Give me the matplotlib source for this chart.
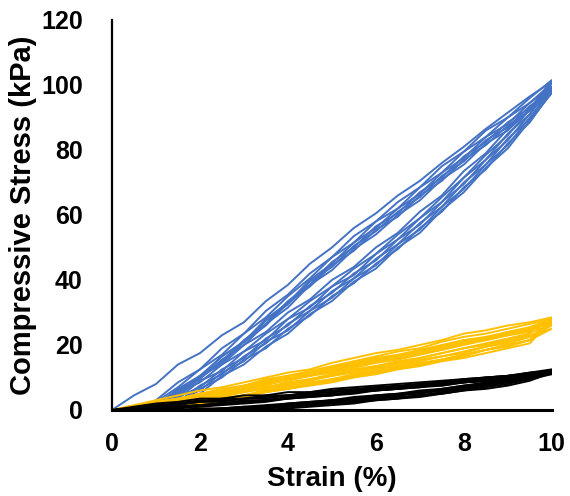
import matplotlib
matplotlib.use("Agg")
import matplotlib.pyplot as plt

# ---------------- data ----------------
STRAIN = [0.0, 0.5, 1.0, 1.5, 2.0, 2.5, 3.0, 3.5, 4.0, 4.5, 5.0,
          5.5, 6.0, 6.5, 7.0, 7.5, 8.0, 8.5, 9.0, 9.5, 10.0]

X_TICKS = [0, 2, 4, 6, 8, 10]
Y_TICKS = [0, 20, 40, 60, 80, 100, 120]

BLUE_LOADING = [
    [0, 4.5, 8, 14, 17.5, 23, 27, 33.5, 38.5, 45, 50, 56, 60.5, 66, 70.5, 76, 81, 86.5, 91.5, 96.5, 101],
    [0, 0, 3, 8.5, 12.5, 19, 23.5, 30.5, 35.5, 42, 47, 53.5, 58, 64, 68.5, 75, 79.5, 86, 90, 96, 101.5],
    [0, 0, 2.5, 7, 12.5, 17, 23.5, 28.5, 35, 40.5, 47, 51.5, 58, 62, 68.5, 73, 79.5, 84, 90, 94.5, 100.5],
    [0, 0, 1.5, 6.5, 10.5, 16.5, 21, 28, 33, 40, 45, 51.5, 56, 62, 66.5, 73, 77.5, 84, 88, 94.5, 99.5],
    [0, 0, 1, 4.5, 10.5, 15, 21.5, 26.5, 33.5, 38.5, 45.5, 50, 56.5, 60.5, 67, 71.5, 78, 82.5, 88.5, 93, 99],
    [0, 0, 1.5, 6, 10, 16.5, 21, 27.5, 32.5, 39.5, 44, 50.5, 55, 61, 65.5, 72, 76.5, 83, 87, 93.5, 98.5],
    [0, 0, 0.5, 4, 10, 14.5, 21, 26, 33, 38, 44.5, 49, 55.5, 59.5, 66, 70.5, 77, 81.5, 87.5, 92, 98],
    [0, 0, 1, 5.5, 9.5, 15.5, 20, 26.5, 31.5, 38.5, 43, 49.5, 54, 60, 64.5, 71, 75.5, 82, 86, 92.5, 97.5],
]
BLUE_UNLOADING = [
    [0, 0, 2, 5, 10.5, 14, 20, 24, 30, 34, 40, 44, 50, 54.5, 61, 66, 73.5, 79, 86.5, 92.5, 101],
    [0, 0.5, 1.5, 5.5, 8.5, 14, 18, 23.5, 28, 33.5, 38, 43.5, 48, 54, 59, 65.5, 71.5, 78.5, 84.5, 92.5, 101.5],
    [0, 0, 1, 3.5, 9, 12, 18, 21.5, 28, 31.5, 38, 41.5, 48, 52.5, 59, 64, 71.5, 77, 85, 91, 100.5],
    [0, 0, 0.5, 4, 7, 12.5, 16, 22, 26, 32, 36, 42, 46, 52.5, 57, 64, 69.5, 77, 83, 91, 99.5],
    [0, 0, 0.5, 2.5, 7.5, 11, 16.5, 20.5, 26.5, 30.5, 36.5, 40.5, 46.5, 51, 57.5, 62.5, 70, 75.5, 83.5, 89.5, 99],
    [0, 0, 0, 3, 6, 11.5, 15, 21, 24.5, 30.5, 34.5, 40.5, 44.5, 51, 55.5, 62.5, 68, 75.5, 81.5, 90, 98.5],
    [0, 0, 0, 2, 6.5, 10, 15.5, 19, 25, 29, 35, 39, 45, 49.5, 56, 61, 68.5, 74, 82, 88.5, 98],
    [0, 0, 0, 2.5, 5, 10.5, 14, 19.5, 23.5, 29.5, 33.5, 39.5, 43.5, 50, 54.5, 61.5, 67, 74.5, 80.5, 89, 97.5],
]

YELLOW_LOADING = [
    [0, 1.5, 3, 4.5, 6, 7, 8.5, 10, 11.5, 12.5, 14.5, 16, 17.5, 18.5, 20, 21.5, 23.5, 24.5, 26, 27, 28.5],
    [0, 1, 2.5, 3.5, 5, 6.5, 7.5, 9.5, 10.5, 12, 13.5, 15, 16.5, 18, 19, 21, 22.5, 23.5, 25, 26.5, 28],
    [0, 0.5, 2, 3, 5, 5.5, 7.5, 8.5, 10.5, 11, 13, 14, 16, 16.5, 18.5, 19.5, 21.5, 22, 24, 25, 27],
    [0, 1, 1.5, 3, 4, 5.5, 6.5, 8.5, 9.5, 11, 12, 14, 15, 16.5, 17.5, 19.5, 20.5, 22, 23, 25, 26.5],
    [0, 0.5, 1.5, 2.5, 4.5, 5, 7, 8, 10, 10.5, 12.5, 13.5, 15.5, 16, 18, 19, 21, 21.5, 23.5, 24.5, 27.5],
    [0, 1, 2.5, 3.5, 5, 6, 7.5, 9, 10.5, 11.5, 13, 14.5, 16, 17, 18.5, 20, 21.5, 22.5, 24, 25.5, 28],
    [0, 0.5, 1, 2, 3.5, 4.5, 6, 7, 8.5, 9.5, 11, 12.5, 13.5, 15, 16, 17.5, 19, 20, 21.5, 23, 25],
    [0, 0.5, 1.5, 2.5, 4, 5, 6.5, 7.5, 9.5, 10.5, 12, 13, 15, 16, 17.5, 18.5, 20.5, 21.5, 23, 24, 26],
]
YELLOW_UNLOADING = [
    [0, 0, 1, 2.5, 3.5, 5, 6.5, 8, 9, 10.5, 11.5, 13, 14.5, 15.5, 17, 18.5, 20, 21.5, 23, 24.5, 28.5],
    [0, 0, 0.5, 2, 3, 4.5, 5.5, 7, 8, 9.5, 10.5, 12, 13.5, 14.5, 16, 17.5, 19, 20.5, 22, 23.5, 28],
    [0, 0, 0.5, 1.5, 3, 4, 5.5, 6.5, 8, 9, 10.5, 11.5, 13, 14, 15.5, 16.5, 18, 19.5, 21, 22.5, 27],
    [0, 0, 0, 1, 2.5, 3.5, 4.5, 6, 7, 8, 9.5, 10.5, 12, 13, 14.5, 15.5, 17, 18.5, 20, 21.5, 26.5],
    [0, 0, 0.5, 1.5, 2, 3.5, 4.5, 6, 6.5, 8, 9, 10.5, 11.5, 13, 14, 15.5, 16.5, 18.5, 19.5, 21.5, 27.5],
    [0, 0, 0, 1, 2, 3, 4, 5.5, 6.5, 7.5, 8.5, 10, 11, 12.5, 13.5, 15, 16, 17.5, 19, 20.5, 28],
    [0, 0, 0, 0.5, 1.5, 3, 4, 5.5, 6.5, 8, 9, 10.5, 11.5, 13, 14, 15.5, 17, 18.5, 20, 21.5, 25],
    [0, 0, 0.5, 1, 2.5, 3.5, 4.5, 6, 7.5, 8.5, 9.5, 11, 12.5, 13.5, 15, 16.5, 17.5, 19.5, 20.5, 22.5, 26],
]

BLACK_LOADING = [
    [0, 1, 2, 2.5, 3.5, 3.5, 4.5, 4.5, 5.5, 5.5, 6.5, 7, 7.5, 8, 8.5, 9, 9.5, 10, 10.5, 11.5, 12.5],
    [0, 0.5, 1, 2, 2.5, 3.5, 3.5, 4.5, 4.5, 5.5, 6, 6.5, 7, 7.5, 8, 8.5, 9.5, 10, 10.5, 11.5, 12],
    [0, 0.5, 1, 1.5, 2.5, 2.5, 3.5, 3.5, 4.5, 5, 5.5, 6, 7, 7, 8, 8.5, 9, 10, 10.5, 11, 12],
    [0, 0, 0.5, 1, 1.5, 2, 2.5, 3, 3.5, 4, 4.5, 5.5, 6, 6.5, 7.5, 8, 8.5, 9, 10, 10.5, 11.5],
    [0, 0, 0.5, 1, 1.5, 2, 3, 3, 4, 4.5, 5, 5.5, 6.5, 6.5, 7.5, 7.5, 8.5, 9, 10, 10.5, 11.5],
    [0, 0, 0.5, 0.5, 1, 1.5, 2, 2.5, 3.5, 4, 4.5, 5, 6, 6.5, 7, 7.5, 8.5, 9, 9.5, 10.5, 11],
    [0, 0.5, 1.5, 2, 3, 3, 3.5, 4, 4.5, 5, 5.5, 6, 6.5, 7, 8, 8, 9, 9.5, 10.5, 11, 12],
    [0, 0, 0.5, 1, 1.5, 2, 2.5, 3, 3.5, 4.5, 4.5, 5.5, 6, 6.5, 7, 8, 8.5, 9, 9.5, 10.5, 11.5],
]
BLACK_UNLOADING = [
    [0, 0, 0, 0, 0.5, 0.5, 1, 1.5, 2, 2.5, 3, 4, 4.5, 5, 6, 6.5, 7.5, 8.5, 9.5, 10.5, 12.5],
    [0, 0, 0, 0, 0, 0.5, 1, 1, 2, 2.5, 3, 3.5, 4.5, 5, 5.5, 6.5, 7.5, 8, 9.5, 10.5, 12],
    [0, 0, 0, 0, 0, 0, 0.5, 1, 1.5, 2, 3, 3, 4, 4.5, 5.5, 6, 7, 8, 9, 10, 12],
    [0, 0, 0, 0, 0, 0, 0.5, 0.5, 1.5, 1.5, 2.5, 3, 3.5, 4.5, 5, 6, 6.5, 7.5, 8.5, 9.5, 11.5],
    [0, 0, 0, 0, 0, 0, 0, 0.5, 1, 1.5, 2, 2.5, 3.5, 4, 4.5, 5.5, 6.5, 7.5, 8.5, 9.5, 11.5],
    [0, 0, 0, 0, 0, 0, 0, 0.5, 1, 1.5, 2, 2.5, 3, 3.5, 4.5, 5, 6, 7, 8, 9.5, 11],
    [0, 0, 0, 0, 0, 0.5, 0.5, 1, 1.5, 2, 2.5, 3.5, 4, 4.5, 5.5, 6, 7, 8, 9, 10, 12],
    [0, 0, 0, 0, 0, 0, 0, 0, 0.5, 1, 1.5, 2, 3, 3.5, 4, 5, 6, 6.5, 7.5, 9, 11.5],
]

COLORS = {"blue": "#4472C4", "yellow": "#FFC000", "black": "#000000"}

# ---------------- plot ----------------
plt.rcParams["font.family"] = ["Liberation Sans", "DejaVu Sans"]
plt.rcParams["font.weight"] = "bold"

fig = plt.figure(figsize=(5.70, 4.96), dpi=100)
ax = fig.add_axes([0.1965, 0.1734, 0.7715, 0.7863])

groups = [
    (BLUE_LOADING, BLUE_UNLOADING, COLORS["blue"]),
    (YELLOW_LOADING, YELLOW_UNLOADING, COLORS["yellow"]),
    (BLACK_LOADING, BLACK_UNLOADING, COLORS["black"]),
]
for loads, unloads, col in groups:
    for ld, ul in zip(loads, unloads):
        xs = STRAIN + STRAIN[::-1]
        ys = ld + ul[::-1]
        ax.plot(xs, ys, color=col, lw=1.4, solid_joinstyle="round")

ax.set_xlim(0, 10)
ax.set_ylim(0, 120)
ax.set_xticks(X_TICKS)
ax.set_yticks(Y_TICKS)
ax.set_xticklabels([str(t) for t in X_TICKS], fontsize=18, fontweight="bold")
ax.set_yticklabels([str(t) for t in Y_TICKS], fontsize=18, fontweight="bold")
ax.tick_params(axis="both", length=0)
ax.tick_params(axis="x", pad=16)
ax.tick_params(axis="y", pad=21)

for s in ["top", "right"]:
    ax.spines[s].set_visible(False)
ax.spines["left"].set_linewidth(1.6)
ax.spines["bottom"].set_linewidth(2.2)
ax.spines["left"].set_zorder(5)
ax.spines["bottom"].set_zorder(5)

ax.set_xlabel("Strain (%)", fontsize=20, fontweight="bold", labelpad=7)
ax.set_ylabel("Compressive Stress (kPa)", fontsize=21, fontweight="bold", labelpad=3)

fig.savefig("out.png", dpi=100, facecolor="white")
